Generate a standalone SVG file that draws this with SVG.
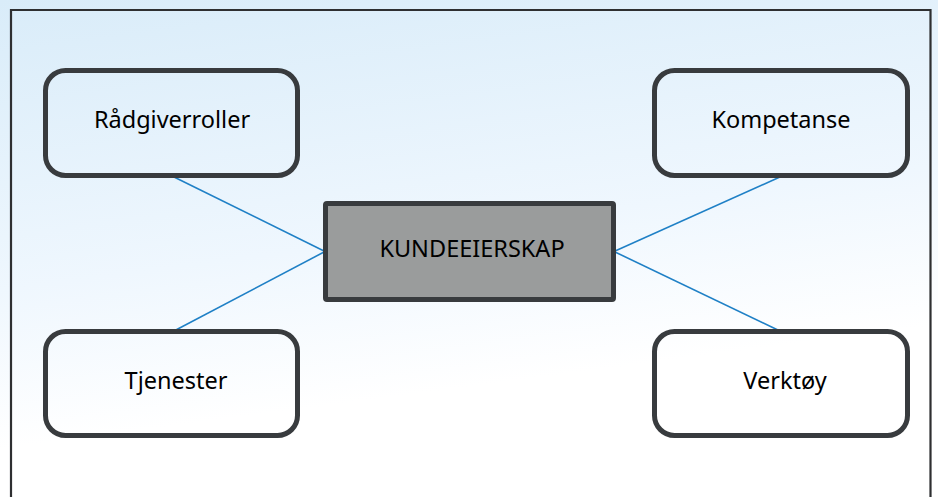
<svg xmlns="http://www.w3.org/2000/svg" width="938" height="497" viewBox="0 0 938 497">
  <defs>
    <linearGradient id="bg" x1="0" y1="0" x2="0.25" y2="1">
      <stop offset="0" stop-color="#d9ecf9"/>
      <stop offset="0.55" stop-color="#eff7fe"/>
      <stop offset="0.85" stop-color="#ffffff"/>
      <stop offset="1" stop-color="#ffffff"/>
    </linearGradient>
    <style>
      .box { fill: none; stroke: #383b3e; stroke-width: 5; }
      .core { fill: #9a9c9c; stroke: #383b3e; stroke-width: 5; stroke-linejoin: round; }
      .lbl { font-family: "Noto Sans", "Open Sans", sans-serif; font-size: 23.5px; fill: #000; text-anchor: middle; }
      .link { stroke: #1f80c6; stroke-width: 1.6; fill: none; }
    </style>
  </defs>

  <!-- page background and frame -->
  <rect x="0" y="0" width="938" height="497" fill="url(#bg)"/>
  <path d="M11 505 V10 H930.5 V505" fill="none" stroke="#2e2f31" stroke-width="2.2"/>

  <g id="connectors">
    <line class="link" x1="173" y1="176.5" x2="325" y2="251.5"/>
    <line class="link" x1="173" y1="331.5" x2="325" y2="251.5"/>
    <line class="link" x1="781" y1="176.5" x2="614" y2="251.5"/>
    <line class="link" x1="781" y1="331.5" x2="614" y2="251.5"/>
  </g>

  <g id="radgiverroller">
    <rect class="box" x="45.5" y="70.5" width="252" height="105" rx="20"/>
    <text class="lbl" x="172" y="128">Rådgiverroller</text>
  </g>

  <g id="kompetanse">
    <rect class="box" x="654.5" y="70.5" width="253" height="105" rx="20"/>
    <text class="lbl" x="781" y="128">Kompetanse</text>
  </g>

  <g id="tjenester">
    <rect fill="#ffffff" class="box" x="45.5" y="331.5" width="252" height="104" rx="20"/>
    <text class="lbl" x="176" y="389">Tjenester</text>
  </g>

  <g id="verktoy">
    <rect fill="#ffffff" class="box" x="654.5" y="331.5" width="253" height="104" rx="20"/>
    <text class="lbl" x="785" y="389">Verktøy</text>
  </g>

  <g id="kundeeierskap">
    <rect class="core" x="325.5" y="203.5" width="288" height="96" rx="1.5"/>
    <text class="lbl" x="472" y="257">KUNDEEIERSKAP</text>
  </g>
</svg>
